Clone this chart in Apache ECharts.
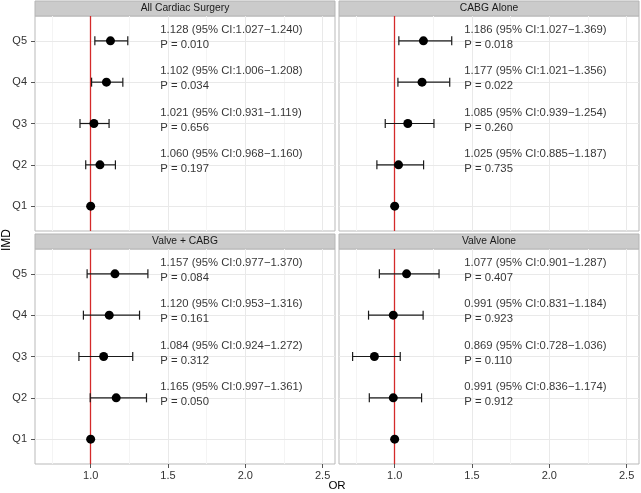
<!DOCTYPE html>
<html>
<head>
<meta charset="utf-8">
<script src="https://cdn.jsdelivr.net/npm/echarts@6/dist/echarts.min.js"></script>
<style>html,body{margin:0;padding:0;background:#fff;}#c{width:641px;height:493px;}</style>
</head>
<body>
<div id="c"></div>
<script>
// ---- data ----
const categories = ['Q1', 'Q2', 'Q3', 'Q4', 'Q5'];
const panelTitles = ['All Cardiac Surgery', 'CABG Alone', 'Valve + CABG', 'Valve Alone'];
const xTicks = [1.0, 1.5, 2.0, 2.5];
const xMinorTicks = [0.75, 1.25, 1.75, 2.25];

const orAll = [1, 1.060, 1.021, 1.102, 1.128];
const loAll = [null, 0.968, 0.931, 1.006, 1.027];
const hiAll = [null, 1.160, 1.119, 1.208, 1.240];
const pAll = [null, '0.197', '0.656', '0.034', '0.010'];

const orCabg = [1, 1.025, 1.085, 1.177, 1.186];
const loCabg = [null, 0.885, 0.939, 1.021, 1.027];
const hiCabg = [null, 1.187, 1.254, 1.356, 1.369];
const pCabg = [null, '0.735', '0.260', '0.022', '0.018'];

const orVC = [1, 1.165, 1.084, 1.120, 1.157];
const loVC = [null, 0.997, 0.924, 0.953, 0.977];
const hiVC = [null, 1.361, 1.272, 1.316, 1.370];
const pVC = [null, '0.050', '0.312', '0.161', '0.084'];

const orValve = [1, 0.991, 0.869, 0.991, 1.077];
const loValve = [null, 0.836, 0.728, 0.831, 0.901];
const hiValve = [null, 1.174, 1.036, 1.184, 1.287];
const pValve = [null, '0.912', '0.110', '0.923', '0.407'];

const panels = [
  {or: orAll, lo: loAll, hi: hiAll, p: pAll},
  {or: orCabg, lo: loCabg, hi: hiCabg, p: pCabg},
  {or: orVC, lo: loVC, hi: hiVC, p: pVC},
  {or: orValve, lo: loValve, hi: hiValve, p: pValve}
];

// ---- layout ----
const FONT = '"Liberation Sans", Arial, Helvetica, sans-serif';
const TEXT_X = 1.45;
const gridBoxes = [
  {left: 35, top: 16}, {left: 339, top: 16},
  {left: 35, top: 249}, {left: 339, top: 249}
];
const GW = 300, GH = 215;

const grids = [], xAxes = [], yAxes = [], series = [], graphics = [];

gridBoxes.forEach((b, i) => {
  grids.push({left: b.left, top: b.top, width: GW, height: GH, show: true,
    borderColor: '#b9b9b9', borderWidth: 1, backgroundColor: '#fff', containLabel: false});
  const bottomRow = i >= 2, leftCol = i % 2 === 0;
  xAxes.push({type: 'value', gridIndex: i, min: 0.64, max: 2.58,
    axisLine: {show: false}, splitLine: {show: false},
    axisTick: {show: bottomRow, customValues: xTicks, length: 4, lineStyle: {color: '#555'}},
    axisLabel: {show: bottomRow, customValues: xTicks, margin: 6, color: '#333', fontSize: 11, fontFamily: FONT,
      formatter: v => v.toFixed(1)}});
  yAxes.push({type: 'value', gridIndex: i, min: 0.4, max: 5.6,
    axisLine: {show: false}, splitLine: {show: false},
    axisTick: {show: leftCol, customValues: [1, 2, 3, 4, 5], length: 4, lineStyle: {color: '#555'}},
    axisLabel: {show: leftCol, customValues: [1, 2, 3, 4, 5], margin: 8, color: '#333', fontSize: 11, fontFamily: FONT,
      formatter: v => categories[Math.round(v) - 1]}});

  // gridlines
  series.push({type: 'scatter', xAxisIndex: i, yAxisIndex: i, data: [], z: 1, silent: true,
    markLine: {z: 1, silent: true, symbol: 'none', animation: false, label: {show: false},
      lineStyle: {color: '#f4f4f4', width: 1, type: 'solid'},
      data: xMinorTicks.map(v => ({xAxis: v}))}});
  series.push({type: 'scatter', xAxisIndex: i, yAxisIndex: i, data: [], z: 1, silent: true,
    markLine: {z: 1, silent: true, symbol: 'none', animation: false, label: {show: false},
      lineStyle: {color: '#e9e9e9', width: 1, type: 'solid'},
      data: xTicks.map(v => ({xAxis: v})).concat([1, 2, 3, 4, 5].map(v => ({yAxis: v})))}});
  // reference line
  series.push({type: 'scatter', xAxisIndex: i, yAxisIndex: i, data: [], z: 2, silent: true,
    markLine: {z: 2, silent: true, symbol: 'none', animation: false, label: {show: false},
      lineStyle: {color: '#d42a2a', width: 1.3, type: 'solid'},
      data: [{xAxis: 1}]}});

  const pd = panels[i];
  const errData = [], ptData = [], txtData = [];
  categories.forEach((c, k) => {
    const q = k + 1;
    ptData.push([pd.or[k], q]);
    if (pd.lo[k] != null) {
      errData.push([pd.lo[k], pd.hi[k], q]);
      txtData.push({value: [TEXT_X, q],
        text: pd.or[k].toFixed(3) + ' (95% CI:' + pd.lo[k].toFixed(3) + '\u2212' + pd.hi[k].toFixed(3) + ')\nP = ' + pd.p[k]});
    }
  });
  series.push({type: 'custom', xAxisIndex: i, yAxisIndex: i, z: 3, silent: true,
    encode: {x: [0, 1], y: 2}, data: errData,
    renderItem: (params, api) => {
      const a = api.coord([api.value(0), api.value(2)]);
      const b2 = api.coord([api.value(1), api.value(2)]);
      const h = 4.5, st = {stroke: '#1a1a1a', lineWidth: 1.2};
      return {type: 'group', children: [
        {type: 'line', shape: {x1: a[0], y1: a[1], x2: b2[0], y2: b2[1]}, style: st},
        {type: 'line', shape: {x1: a[0], y1: a[1] - h, x2: a[0], y2: a[1] + h}, style: st},
        {type: 'line', shape: {x1: b2[0], y1: b2[1] - h, x2: b2[0], y2: b2[1] + h}, style: st}
      ]};
    }});
  series.push({type: 'scatter', xAxisIndex: i, yAxisIndex: i, z: 4, silent: true,
    symbol: 'circle', symbolSize: 9, itemStyle: {color: '#000', opacity: 1}, data: ptData});
  series.push({type: 'scatter', xAxisIndex: i, yAxisIndex: i, z: 5, silent: true,
    symbolSize: 0, data: txtData,
    label: {show: true, position: 'right', distance: 0, offset: [0, -3.5],
      formatter: p => p.data.text, color: '#000', fontSize: 11.3, lineHeight: 15,
      fontFamily: FONT, align: 'left', verticalAlign: 'middle'}});

  // strip header
  graphics.push({type: 'rect', silent: true,
    shape: {x: b.left, y: b.top - 15, width: GW, height: 15},
    style: {fill: '#cbcbcb', stroke: '#b5b5b5', lineWidth: 1}});
  graphics.push({type: 'text', silent: true, x: b.left + GW / 2, y: b.top - 7.5,
    style: {text: panelTitles[i], fill: '#1a1a1a', font: '10.3px ' + FONT, align: 'center', verticalAlign: 'middle'}});
});

graphics.push({type: 'text', silent: true, x: 337, y: 486,
  style: {text: 'OR', fill: '#000', font: '11.5px ' + FONT, align: 'center', verticalAlign: 'middle'}});
graphics.push({type: 'text', silent: true, x: 7, y: 240, rotation: Math.PI / 2,
  style: {text: 'IMD', fill: '#000', font: '12px ' + FONT, align: 'center', verticalAlign: 'middle'}});

const chart = echarts.init(document.getElementById('c'), null, {renderer: 'canvas'});
chart.setOption({
  animation: false,
  backgroundColor: '#fff',
  grid: grids, xAxis: xAxes, yAxis: yAxes, series: series, graphic: graphics
});
</script>
</body>
</html>
